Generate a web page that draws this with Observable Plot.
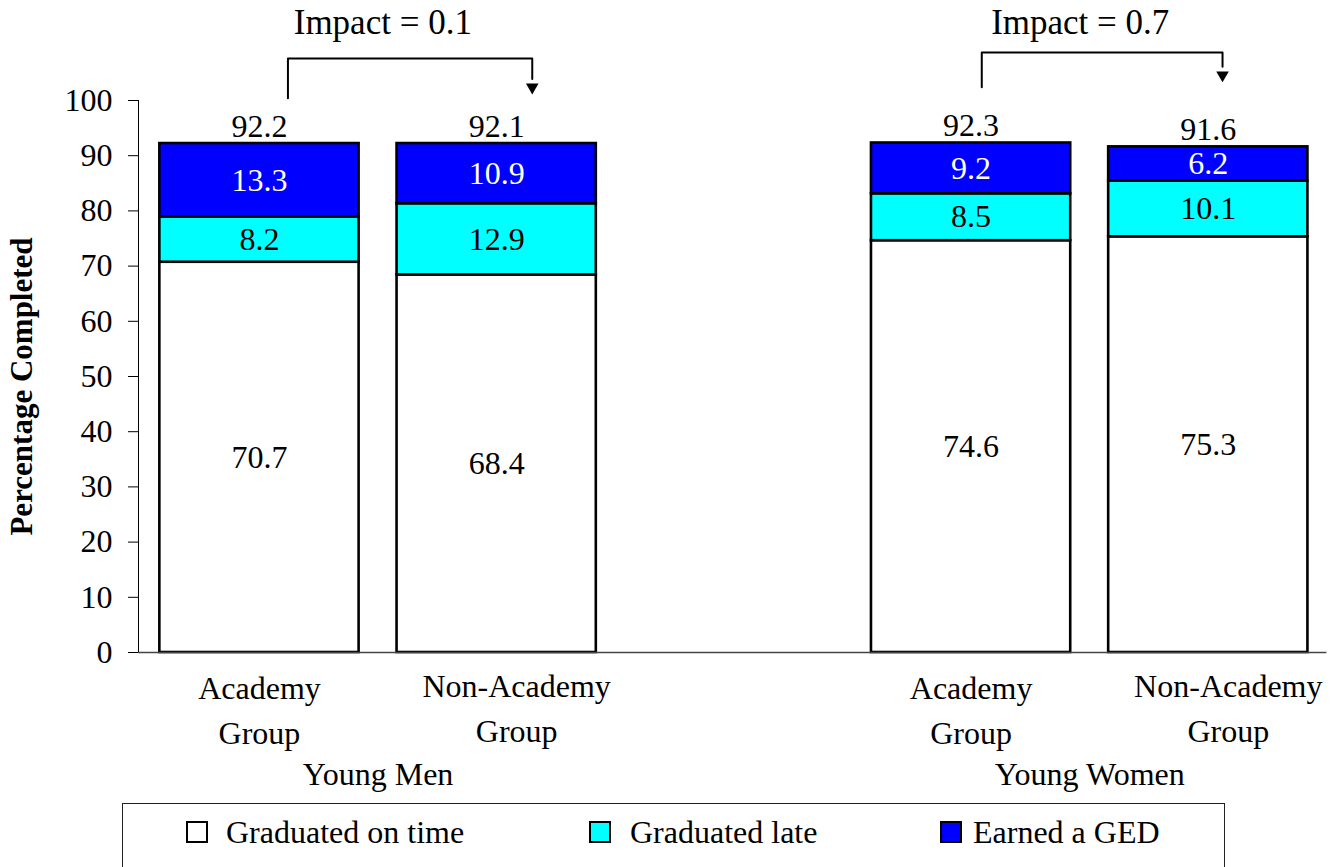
<!DOCTYPE html>
<html>
<head>
<meta charset="utf-8">
<script src="https://cdn.jsdelivr.net/npm/d3@7"></script>
<script src="https://cdn.jsdelivr.net/npm/@observablehq/plot@0.6"></script>
<style>
  html, body { margin: 0; padding: 0; background: #fff; }
  body { font-family: "Liberation Serif", "Times New Roman", serif; width: 1330px; height: 867px; overflow: hidden; }
  #chart svg { display: block; }
  .legend { position: relative; margin-left: 122px; margin-top: 3px; width: 1103px; height: 90px; border: 1.5px solid #222; box-sizing: border-box; }
  .item { position: absolute; top: 10px; font-size: 32px; line-height: 36px; color: #000; white-space: nowrap; }
  .sw { position: absolute; top: 17px; width: 22px; height: 22px; border: 2.5px solid #000; box-sizing: border-box; }
</style>
</head>
<body>
<div id="chart"></div>
<div class="legend" id="legend"></div>
<script>
// ---- data ----
const groups = ["Young Men", "Young Women"];
const categories = ["Academy\nGroup", "Non-Academy\nGroup", "Academy\nGroup", "Non-Academy\nGroup"];
const barGroup = ["Young Men", "Young Men", "Young Women", "Young Women"];
const barSlot = [0, 1, 3, 4];           // order of bars, with an empty slot between groups
const seriesNames = ["Graduated on time", "Graduated late", "Earned a GED"];
const onTime = [70.7, 68.4, 74.6, 75.3];
const late = [8.2, 12.9, 8.5, 10.1];
const ged = [13.3, 10.9, 9.2, 6.2];
const totals = [92.2, 92.1, 92.3, 91.6];
const impactLabels = ["Impact = 0.1", "Impact = 0.7"];
const impactFrom = [0, 2];  // bar index
const impactTo = [1, 3];
const yTicks = [0, 10, 20, 30, 40, 50, 60, 70, 80, 90, 100];

// ---- styles ----
const colors = { "Graduated on time": "#ffffff", "Graduated late": "#00ffff", "Earned a GED": "#0000ff" };
const textColors = { "Graduated on time": "#000", "Graduated late": "#000", "Earned a GED": "#fff" };
const half = 0.42;
const xDomain = [-0.51, 4.5];
const FS = 32;

// ---- build table ----
const seriesVals = [onTime, late, ged];
const rows = [];
categories.forEach((c, i) => {
  let acc = 0;
  seriesNames.forEach((s, k) => {
    const v = seriesVals[k][i];
    rows.push({ slot: barSlot[i], series: s, value: v, y1: acc, y2: acc + v });
    acc += v;
  });
});
const bars = categories.map((c, i) => ({ slot: barSlot[i], label: c, total: totals[i], group: barGroup[i] }));
const groupRows = groups.map(g => {
  const s = bars.filter(b => b.group === g).map(b => b.slot);
  return { group: g, x: d3.mean(s) };
});

// impact brackets (offsets are annotation styling, in slot units)
const brStyle = [
  { l: 0.12, r: 0.15, top: 107.6, lb: 100.4, tip: 102.4, tx: 0.52 },
  { l: 0.045, r: 0.06, top: 108.7, lb: 102.4, tip: 104.6, tx: 0.46 }
];
const brLines = [];
const brHeads = [];
const impactText = [];
impactLabels.forEach((lab, j) => {
  const a = barSlot[impactFrom[j]], b = barSlot[impactTo[j]], st = brStyle[j];
  const xl = a + st.l, xr = b + st.r;
  [[xl, st.lb], [xl, st.top], [xr, st.top], [xr, st.tip + 1.5]].forEach(p => brLines.push({ id: j, x: p[0], y: p[1] }));
  brHeads.push({ x: xr, y: st.tip });
  impactText.push({ x: a + st.tx * (b - a) / (b - a), label: lab });
});

const chart = Plot.plot({
  width: 1330,
  height: 800,
  marginLeft: 138,
  marginRight: 3.6,
  marginTop: 100,
  marginBottom: 148,
  style: { fontFamily: '"Liberation Serif", "Times New Roman", serif', fontSize: FS + "px", color: "#000", background: "#fff", overflow: "visible" },
  x: { domain: xDomain, axis: null },
  y: { domain: [0, 100], axis: null },
  marks: [
    Plot.rect(rows, {
      x1: d => d.slot - half, x2: d => d.slot + half, y1: "y1", y2: "y2",
      fill: d => colors[d.series], stroke: "#000", strokeWidth: 2.6
    }),
    Plot.text(rows, {
      x: "slot", y: d => (d.y1 + d.y2) / 2, text: d => d.value.toFixed(1),
      fill: d => textColors[d.series], fontSize: FS, lineAnchor: "middle"
    }),
    Plot.text(bars, {
      x: "slot", y: "total", text: d => d.total.toFixed(1), fontSize: FS, lineAnchor: "bottom", dy: -7
    }),
    Plot.axisY({ ticks: yTicks, tickSize: 10, tickPadding: 16, fontSize: FS, label: null, stroke: "#000" }),
    Plot.ruleX([xDomain[0]], { y1: 0, y2: 100, stroke: "#000", strokeWidth: 1 }),
    Plot.ruleY([0], { stroke: "#444", strokeWidth: 1.5 }),
    Plot.text(bars.filter(b => b.label.startsWith("Academy")), {
      x: "slot", y: 0, text: "label", fontSize: FS, lineAnchor: "top", lineHeight: 1.4, dy: 15
    }),
    Plot.text(bars.filter(b => b.label.startsWith("Non")), {
      x: "slot", y: 0, text: "label", fontSize: FS, lineAnchor: "top", lineHeight: 1.4, dy: 13, dx: 20
    }),
    Plot.text(groupRows, {
      x: "x", y: 0, text: "group", fontSize: FS, lineAnchor: "top", dy: 110
    }),
    Plot.text(["Percentage Completed"], {
      frameAnchor: "left", textAnchor: "middle", rotate: -90, dx: -116, dy: 10, fontWeight: "bold", fontSize: 31
    }),
    Plot.line(brLines, { x: "x", y: "y", z: "id", stroke: "#000", strokeWidth: 2, curve: "linear" }),
    Plot.dot(brHeads, { x: "x", y: "y", symbol: "triangle2", rotate: 180, r: 6, fill: "#000", stroke: "none" }),
    Plot.text(impactText, { x: "x", y: 114, text: "label", fontSize: 35, lineAnchor: "middle" })
  ]
});
document.getElementById("chart").appendChild(chart);

// ---- legend ----
const legend = document.getElementById("legend");
const legPos = [[63, 103], [466, 507], [817, 850]];
seriesNames.forEach((s, k) => {
  const sw = document.createElement("div");
  sw.className = "sw";
  sw.style.left = legPos[k][0] + "px";
  sw.style.background = colors[s];
  legend.appendChild(sw);
  const t = document.createElement("div");
  t.className = "item";
  t.style.left = legPos[k][1] + "px";
  t.textContent = s;
  legend.appendChild(t);
});
</script>
</body>
</html>
